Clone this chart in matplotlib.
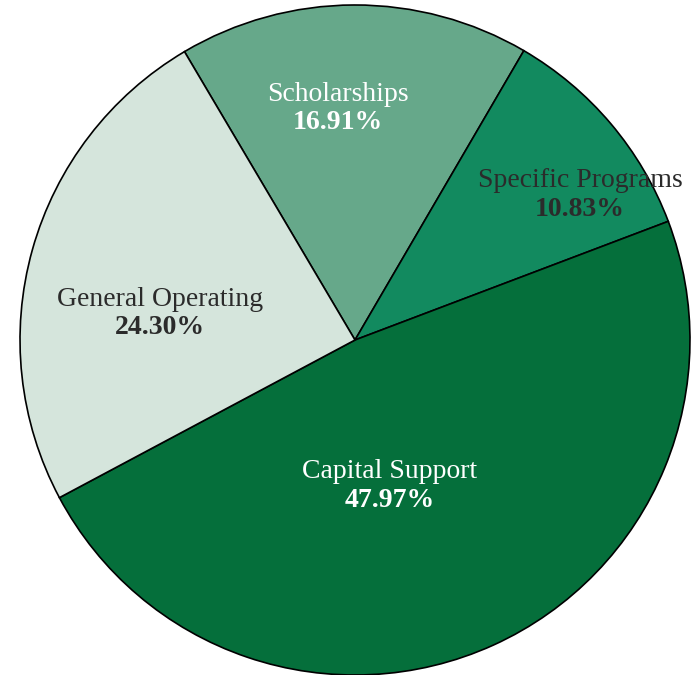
import matplotlib.pyplot as plt

labels = ['Scholarships', 'Specific Programs', 'Capital Support', 'General Operating']
values = [16.91, 10.83, 47.97, 24.30]
colors = ['#66a88a', '#128a5f', '#056f3b', '#d5e5dc']
text_colors = ['white', '#2b2b2b', 'white', '#2b2b2b']
# label centres in data units (pie radius = 1)
label_pos = [(-0.05, 0.69), (0.672, 0.433), (0.104, -0.436), (-0.582, 0.078)]

plt.rcParams['font.family'] = ['Liberation Serif', 'DejaVu Serif']

fig = plt.figure(figsize=(6.96, 6.75), dpi=100)
ax = fig.add_axes([0, 0, 1, 1])

ax.pie(values, colors=colors, startangle=120.6, counterclock=False,
       wedgeprops=dict(edgecolor='black', linewidth=1.2))

for lab, v, c, (x, y) in zip(labels, values, text_colors, label_pos):
	ax.text(x, y + 0.042, lab, ha='center', va='center', fontsize=20, color=c)
	ax.text(x, y - 0.042, '%.2f%%' % v, ha='center', va='center', fontsize=20,
	        fontweight='bold', color=c)

s = 335.0
ax.set_xlim(-355 / s, (696 - 355) / s)
ax.set_ylim(-(675 - 340) / s, 340 / s)
ax.set_aspect('auto')
ax.axis('off')

plt.savefig('out.png', dpi=100)
